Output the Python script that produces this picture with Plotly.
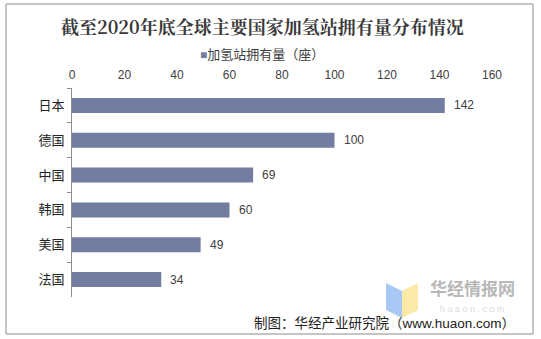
import plotly.graph_objects as go

# ---- data ----
countries = ["日本", "德国", "中国", "韩国", "美国", "法国"]
stations = [142, 100, 69, 60, 49, 34]
x_ticks = [0, 20, 40, 60, 80, 100, 120, 140, 160]
title_text = "截至2020年底全球主要国家加氢站拥有量分布情况"
series_name = "加氢站拥有量（座）"
source_text = "制图：华经产业研究院（www.huaon.com）"

W, H = 541, 339
L, R, T, B = 72, 492, 88, 297  # plot area in pixels


def px(x):
    return (x - L) / (R - L)


def py(y):
    return (B - y) / (B - T)


FONT = "Liberation Sans, Noto Sans CJK SC, sans-serif"
BAR = "#727DA1"

fig = go.Figure()
fig.add_trace(go.Bar(
    x=stations, y=countries, orientation="h",
    marker=dict(color=BAR, line=dict(width=0)),
    width=0.43, name=series_name, showlegend=False,
))

ann = []
for c, v in zip(countries, stations):
    ann.append(dict(x=v, y=c, xref="x", yref="y", text=str(v), showarrow=False,
                    xanchor="left", yanchor="middle", xshift=7,
                    font=dict(size=12, color="#404040", family=FONT)))

# legend (marker + series name)
ann.append(dict(x=px(262), y=py(55), xref="paper", yref="paper",
                text=f"<span style='color:{BAR};font-size:12px'>■</span>{series_name}",
                showarrow=False, xanchor="center", yanchor="middle",
                font=dict(size=13, color="#404040", family=FONT)))

ann.append(dict(x=px(262), y=py(26), xref="paper", yref="paper", text="<b>" + title_text + "</b>",
                showarrow=False, xanchor="center", yanchor="middle",
                font=dict(size=18, color="#3A3A3A", family="Noto Serif CJK SC, Noto Sans CJK SC")))
ann.append(dict(x=px(517), y=py(323), xref="paper", yref="paper", text=source_text,
                showarrow=False, xanchor="right", yanchor="middle",
                font=dict(size=13.5, color="#222222", family=FONT)))
# watermark
ann.append(dict(x=px(472), y=py(302), xref="paper", yref="paper", text="<b>华经情报网</b>",
                showarrow=False, xanchor="center", yanchor="bottom",
                font=dict(size=17, color="#B8B8B8", family="Noto Sans CJK SC")))
ann.append(dict(x=px(472), y=py(302), xref="paper", yref="paper", text="h u a o n . c o m",
                showarrow=False, xanchor="center", yanchor="top",
                font=dict(size=9, color="#DADADA", family=FONT)))

shapes = [
    dict(type="rect", xref="paper", yref="paper", x0=px(6), x1=px(533), y0=py(334), y1=py(4),
         line=dict(color="#8C8C8C", width=1), fillcolor="rgba(0,0,0,0)", layer="below"),
    dict(type="path", xref="paper", yref="paper",
         path=f"M {px(386)},{py(283)} L {px(402)},{py(291)} L {px(402)},{py(318)} L {px(386)},{py(310)} Z",
         fillcolor="#A9C9F5", line=dict(width=0)),
    dict(type="path", xref="paper", yref="paper",
         path=f"M {px(402)},{py(291)} L {px(418)},{py(283)} L {px(418)},{py(310)} L {px(402)},{py(318)} Z",
         fillcolor="#FBEAA5", line=dict(width=0)),
]

fig.update_layout(
    width=W, height=H,
    margin=dict(l=L, r=W - R, t=T, b=H - B, pad=0),
    paper_bgcolor="white", plot_bgcolor="white",
    font=dict(family=FONT, size=12, color="#404040"),
    showlegend=False,
    xaxis=dict(side="top", range=[0, 160], tickvals=x_ticks, showgrid=False, zeroline=False,
               showline=False, ticks="", ticklabelstandoff=6,
               tickfont=dict(size=12, color="#404040"), fixedrange=True),
    yaxis=dict(autorange="reversed", showgrid=False, zeroline=False, showline=True,
               linecolor="#8C8C8C", linewidth=1, ticks="outside", ticklen=4, tickcolor="#8C8C8C",
               tickson="boundaries", ticklabelstandoff=4,
               tickfont=dict(size=13, color="#222222")),
    annotations=ann, shapes=shapes, bargap=0.57,
)

fig.write_html("out.html")
